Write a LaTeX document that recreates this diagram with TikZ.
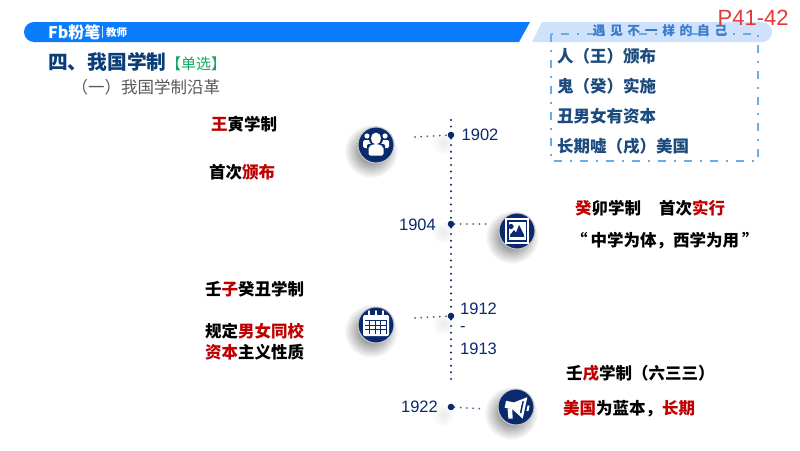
\documentclass[tikz,border=0pt]{standalone}
\usepackage{fontspec}
\setmainfont{Noto Sans CJK SC}
\newfontfamily\yearfont{Liberation Sans}
\newfontfamily\spacedfont[LetterSpace=36]{Noto Sans CJK SC}
\usetikzlibrary{positioning,fadings}
\definecolor{barblue}{HTML}{0A7BFB}
\definecolor{paleblue}{HTML}{CFE1FB}
\definecolor{dashblue}{HTML}{64AEF0}
\definecolor{navy}{HTML}{0A2A6E}
\definecolor{titleblue}{HTML}{0B3D78}
\definecolor{boxblue}{HTML}{1B4A7C}
\definecolor{slogan}{HTML}{3B7CC9}
\definecolor{keyred}{HTML}{C00000}
\definecolor{tagGreen}{HTML}{12A95C}
\definecolor{pagered}{HTML}{E03A3A}
\newcommand{\key}[1]{\textcolor{keyred}{#1}}
\newcommand{\zl}{\char"FF08\relax}
\newcommand{\zr}{\char"FF09\relax}
\newcommand{\zc}{\char"FF0C\relax}
\tikzfading[name=softfade, inner color=transparent!35, outer color=transparent!100]

\begin{document}
\begin{tikzpicture}[x=1pt, y=-1pt,
dotnode/.style={circle, fill=navy, inner sep=0pt, minimum size=6.6pt},
iconnode/.style={circle, draw=black!22, line width=1pt, fill=navy, inner sep=0pt, minimum size=36pt},
softshadow/.style={fill=black, path fading=softfade},
yearnode/.style={text=navy, font=\yearfont\fontsize{16.5}{20}\selectfont, inner sep=0pt},
notenode/.style={anchor=west, inner sep=0pt, font=\bfseries\fontsize{16.5}{20}\selectfont},
boxnode/.style={notenode, text=boxblue},
dotline/.style={navy!85!black, line width=2.2pt, line cap=round, dash pattern=on 0pt off 6.6pt},
sideline/.style={navy!75, line width=2pt, line cap=round, dash pattern=on 0pt off 6.2pt},
whiteicon/.style={fill=white, draw=none},
]
\useasboundingbox (0,0) rectangle (800,450);
\fill[white] (0,0) rectangle (800,450);

%Banner
\fill[barblue, rounded corners=10pt] (45,22) -- (24,22) -- (24,42) -- (45,42) -- cycle;
\fill[barblue] (34,22) -- (530,22) -- (519,42) -- (34,42) -- cycle;
\fill[paleblue, rounded corners=10pt] (560,42) -- (772,42) -- (772,22) -- (560,22) -- cycle;
\fill[paleblue] (542,22) -- (570,22) -- (570,42) -- (532,42) -- cycle;
\node[anchor=west, inner sep=0pt, text=white, font=\bfseries\fontsize{16}{18}\selectfont] (logo) at (48,32) {Fb粉笔};
\node[anchor=west, inner sep=0pt, text=white, font=\bfseries\fontsize{10.5}{12}\selectfont] (teacher) at (106,32.5) {教师};
\fill[white!80!barblue] (102,26) rectangle (102.7,38);

%Titles
\node[anchor=west, inner sep=0pt, text=titleblue, font=\bfseries\fontsize{19.7}{24}\selectfont] (title) at (48,62) {四、我国学制};
\node[anchor=west, inner sep=0pt, text=tagGreen, font=\fontsize{15}{17}\selectfont] (tag) at (166,64) {【单选】};
\node[anchor=west, inner sep=0pt, text=black!65, font=\fontsize{16.5}{19}\selectfont] (subtitle) at (71.5,87) {\zl 一\zr 我国学制沿革};

%Box
\draw[dashblue, line width=2pt, dash pattern=on 8pt off 8pt on 2pt off 8pt] (550.5,33.5) rectangle (757.5,160.5);
\node[anchor=center, inner sep=0pt, text=slogan, font=\spacedfont\bfseries\fontsize{12.8}{15}\selectfont] (slogan) at (660,31) {遇见不一样的自己};
\node[anchor=west, inner sep=0pt, text=pagered, font=\yearfont\fontsize{22}{24}\selectfont] (page) at (717.5,18) {P41-42};
\node[boxnode] (rule1) at (557,56) {人\zl 王\zr 颁布};
\node[boxnode] (rule2) at (557,86) {鬼\zl 癸\zr 实施};
\node[boxnode] (rule3) at (557,116) {丑男女有资本};
\node[boxnode] (rule4) at (557,146) {长期嘘\zl 戌\zr 美国};

%Shadows
\fill[softshadow] (371,151) circle (27pt);
\fill[softshadow] (512,237) circle (27pt);
\fill[softshadow] (371,331) circle (27pt);
\fill[softshadow] (511,413) circle (27pt);
\fill[softshadow, opacity=0.12] (443,143) circle (12pt);
\fill[softshadow, opacity=0.12] (443,232) circle (12pt);
\fill[softshadow, opacity=0.12] (443,324) circle (12pt);
\fill[softshadow, opacity=0.12] (443,415) circle (12pt);

%Nodes
\node[dotnode] (d1902) at (451,135) {};
\node[dotnode] (d1904) at (451,224) {};
\node[dotnode] (d1912) at (451,316) {};
\node[dotnode] (d1922) at (451,407) {};
\coordinate (axisTop) at (451,120);
\coordinate (axisEnd) at (451,382);
\coordinate (c1902) at (415,137);
\coordinate (c1904) at (490,224);
\coordinate (c1912) at (415,318);
\coordinate (c1922) at (485,409);
\node[iconnode] (i1902) at (376,145) {};
\node[iconnode] (i1904) at (517,231) {};
\node[iconnode] (i1912) at (376,325) {};
\node[iconnode] (i1922) at (516,407) {};

\node[yearnode, right=7pt of d1902] (y1902) {1902};
\node[yearnode, left=11.5pt of d1904, yshift=-1pt] (y1904) {1904};
\node[yearnode, anchor=west] (y1912) at (460,309) {1912};
\node[yearnode, anchor=west] (ydash) at (460,329) {-};
\node[yearnode, anchor=west] (y1913) at (460,349) {1913};
\node[yearnode, left=9.5pt of d1922] (y1922) {1922};

\node[notenode] (n1) at (211,124) {\key{王}寅学制};
\node[notenode] (n2) at (209,172) {首次\key{颁布}};
\node[notenode] (n3) at (575,208) {\key{癸}卯学制\hspace*{18pt}首次\key{实行}};
\node[notenode] (n4) at (571,241) {“\hspace{3pt}中学为体\zc 西学为用\hspace{3pt}”};
\node[notenode] (n5) at (205,289) {壬\key{子}癸丑学制};
\node[notenode] (n6) at (205,331) {规定\key{男女同校}};
\node[notenode] (n7) at (205,352) {\key{资本}主义性质};
\node[notenode] (n8) at (566,373) {壬\key{戌}学制\zl 六三三\zr};
\node[notenode] (n9) at (563,409) {\key{美国}为蓝本\zc\key{长期}};

%Lines
\draw[dotline] (axisTop) -- (d1902);
\draw[dotline] (d1902) -- (d1904);
\draw[dotline] (d1904) -- (d1912);
\draw[dotline] (d1912) -- (axisEnd);
\draw[sideline] (c1902) -- (d1902);
\draw[sideline] (d1904) -- (c1904);
\draw[sideline] (c1912) -- (d1912);
\draw[sideline] (d1922) -- (c1922);

%Icons
\begin{scope}[shift={(i1902.center)}]
\fill[whiteicon] (-9,-9) circle (2.6pt);
\fill[whiteicon] (9,-9) circle (2.6pt);
\fill[whiteicon, rounded corners=1.5pt] (-13,3) -- (-13,-5) -- (-5,-5) -- (-5,3) -- cycle;
\fill[whiteicon, rounded corners=1.5pt] (5,3) -- (5,-5) -- (13,-5) -- (13,3) -- cycle;
\fill[navy] (0,-6) circle (7pt);
\fill[navy, rounded corners=2pt] (-9,12) rectangle (9,-1);
\fill[whiteicon] (0,-6.5) ellipse (4.8pt and 6pt);
\fill[whiteicon, rounded corners=2pt] (-7.5,10.5) -- (-7.5,1.5) -- (-2,-1) -- (2,-1) -- (7.5,1.5) -- (7.5,10.5) -- cycle;
\end{scope}
\begin{scope}[shift={(i1904.center)}]
\draw[white, line width=1.2pt] (-11,-12) rectangle (11,12);
\fill[whiteicon] (-8.5,9) -- (8.5,9) -- (8.5,-9) -- (-8.5,-9) -- cycle;
\fill[navy] (-6,-4.5) circle (2.6pt);
\fill[navy] (-7,7) -- (-7,4) -- (-3,-1) -- (-1,1.5) -- (2,-6) -- (7,4) -- (7,7) -- cycle;
\fill[whiteicon] (-7,8) rectangle (7,5.5);
\end{scope}
\begin{scope}[shift={(i1912.center)}]
\fill[whiteicon, rounded corners=1.5pt] (-13,-10) rectangle (13,11);
\fill[navy] (-11,-5) rectangle (11,9);
\foreach \px in {-11,-5.6,-0.2,5.2}
  \foreach \py in {-4,0.5,5}
    \fill[whiteicon] (\px,\py) rectangle +(4.4,3.6);
\foreach \px in {-7,0,7}
  \draw[white, line width=1.4pt, line cap=round] (\px,-14) -- (\px,-8);
\end{scope}
\begin{scope}[shift={(i1922.center)}]
\begin{scope}[rotate=-12]
\fill[whiteicon] (-11,-4) -- (-3,-4) -- (9,-12) -- (9,10) -- (-3,3) -- (-11,3) -- cycle;
\fill[navy] (5,-6.5) -- (6.5,-7.5) -- (6.5,5.5) -- (5,4.5) -- cycle;
\fill[whiteicon] (11,-4) rectangle (13,1.5);
\fill[whiteicon] (-8,3) -- (-3,3) -- (-1,12) -- (-5,13) -- cycle;
\end{scope}
\end{scope}
\end{tikzpicture}
\end{document}
